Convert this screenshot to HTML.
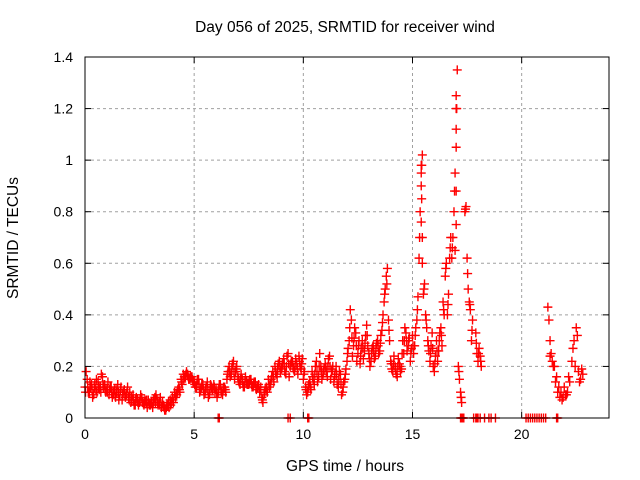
<!DOCTYPE html>
<html><head><meta charset="utf-8"><style>
body{margin:0;background:#fff;}
svg{display:block;font-family:"Liberation Sans",sans-serif;}
</style></head><body>
<svg id="chart" width="640" height="480" viewBox="0 0 640 480">
<rect width="640" height="480" fill="#fff"/>
<text x="345" y="32" font-size="15.5" text-anchor="middle">Day 056 of 2025, SRMTID for receiver wind</text>
<text transform="translate(18,238) rotate(-90)" font-size="15.5" text-anchor="middle">SRMTID / TECUs</text>
<text x="345" y="471" font-size="15.5" text-anchor="middle">GPS time / hours</text>
<g id="grid"></g><g id="ticks"></g><g id="marks"></g>
<rect x="85" y="57" width="524" height="361" fill="none" stroke="#000" stroke-width="1"/>
</svg>
<script>
const xTicks=[0,5,10,15,20];
const yTicks=[0,0.2,0.4,0.6,0.8,1,1.2,1.4];
const yTickLabels=["0","0.2","0.4","0.6","0.8","1","1.2","1.4"];
const hoursA=[0,0.1,0.2,0.3,0.4,0.5,0.6,0.7,0.8,0.9,1,1.1,1.2,1.3,1.4,1.5,1.6,1.7,1.8,1.9,2,2.1,2.2,2.3,2.4,2.5,2.6,2.7,2.8,2.9,3,3.1,3.2,3.3,3.4,3.5,3.6,3.7,3.8,3.9,4,4.1,4.2,4.3,4.4,4.5,4.6,4.7,4.8,4.9,5,5.1,5.2,5.3,5.4,5.5,5.6,5.7,5.8,5.9,6,6.1,6.2,6.3,6.4,6.5,6.6,6.7,6.8,6.9,7,7.1,7.2,7.3,7.4,7.5,7.6,7.7,7.8,7.9,8,8.1,8.2,8.3,8.4,8.5,8.6,8.7,8.8,8.9,9,9.1,9.2,9.3,9.4,9.5,9.6,9.7,9.8,9.9,10,10.1,10.2,10.3,10.4,10.5,10.6,10.7,10.8,10.9,11,11.1,11.2,11.3,11.4,11.5,11.6,11.7,11.8,11.9,12,12.1,12.2,12.3,12.4,12.5,12.6,12.7,12.8,12.9,13,13.1,13.2,13.3,13.4,13.5,13.6,13.7,13.8,13.9,14,14.1,14.2,14.3,14.4,14.5,14.6,14.7,14.8,14.9,15,15.1,15.2,15.3,15.4,15.5,15.6,15.7,15.8,15.9,16,16.1,16.2,16.3,16.4,16.5,16.6,16.7,16.8,16.9,17,17.1,17.2,17.4,17.5,17.6,17.7,17.9,18,18.1];
const tecA=[.12,.15,.10,.13,.09,.11,.14,.12,.16,.13,.11,.09,.12,.10,.08,.13,.09,.07,.11,.09,.08,.06,.09,.05,.07,.06,.08,.05,.06,.07,.05,.04,.08,.07,.06,.04,.05,.03,.05,.07,.08,.10,.09,.12,.15,.17,.16,.17,.15,.16,.14,.12,.15,.11,.13,.10,.14,.09,.12,.13,.11,.10,.13,.09,.12,.15,.20,.17,.22,.18,.16,.13,.15,.12,.14,.13,.15,.12,.14,.12,.10,.08,.09,.12,.15,.13,.18,.20,.16,.22,.19,.23,.17,.25,.20,.22,.18,.21,.24,.19,.15,.12,.10,.14,.18,.13,.22,.16,.20,.17,.21,.16,.24,.18,.14,.20,.12,.17,.10,.15,.22,.30,.38,.28,.33,.25,.21,.30,.26,.36,.25,.22,.28,.24,.30,.26,.34,.45,.55,.38,.22,.18,.20,.16,.21,.19,.25,.33,.28,.22,.32,.28,.38,.62,.95,.48,.40,.30,.22,.33,.18,.30,.26,.35,.45,.55,.40,.62,.62,.80,1.05,.20,.10,.80,.62,.45,.30,.33,.22,.24];
const tecB=[.18,.10,.12,.08,.13,.10,.11,.17,.12,.10,.14,.12,.08,.11,.10,.07,.12,.10,.08,.12,.10,.07,.05,.08,.05,.09,.06,.07,.04,.05,.06,.07,.09,.05,.08,.06,.03,.05,.04,.06,.06,.08,.11,.10,.13,.16,.18,.15,.16,.14,.12,.15,.10,.13,.09,.12,.08,.13,.11,.10,.08,.13,.10,.12,.10,.18,.16,.21,.15,.20,.14,.17,.12,.16,.13,.15,.12,.14,.11,.13,.12,.06,.11,.10,.12,.16,.14,.17,.21,.18,.21,.18,.24,.16,.22,.19,.23,.17,.20,.23,.18,.09,.13,.11,.15,.20,.14,.25,.15,.19,.18,.23,.15,.20,.17,.13,.18,.09,.14,.19,.27,.42,.24,.35,.22,.30,.27,.23,.32,.28,.20,.27,.23,.29,.25,.32,.40,.50,.58,.30,.19,.24,.17,.23,.18,.30,.35,.26,.31,.27,.25,.35,.47,.80,1.02,.52,.35,.26,.28,.20,.24,.22,.33,.28,.40,.60,.48,.70,.70,.95,1.35,.15,.06,.82,.50,.42,.38,.25,.27,.20];
const tecD=[.10,.12,.14,.11,.12,.15,.12,.10,.13,.11,.10,.11,.10,.09,.11,.10,.11,.09,.09,.10,.07,.08,.07,.07,.06,.07,.06,.06,.07,.06,.06,.06,.06,.06,.05,.05,.04,.04,.06,.05,.07,.09,.10,.11,.14,.15,.17,.16,.16,.15,.13,.13,.13,.12,.11,.11,.11,.11,.11,.12,.10,.11,.11,.11,.11,.17,.18,.19,.18,.19,.15,.15,.14,.14,.13,.14,.13,.13,.12,.12,.11,.07,.10,.11,.13,.15,.16,.18,.19,.20,.20,.21,.20,.21,.21,.20,.20,.19,.22,.21,.17,.11,.12,.12,.16,.17,.18,.20,.18,.18,.20,.20,.20,.19,.16,.17,.15,.13,.12,.17,.25,.35,.31,.31,.28,.28,.24,.27,.29,.32,.23,.25,.26,.27,.28,.29,.37,.48,.52,.34,.21,.21,.19,.20,.20,.25,.30,.30,.30,.25,.28,.32,.42,.70,.98,.50,.38,.28,.25,.27,.21,.26,.30,.32,.42,.58,.44,.66,.66,.88,1.20,.18,.08,.81,.56,.44,.34,.29,.25,.22];
const hoursC=[15.4,15.4,15.4,15.45,15.45,15.42,17.0,17.0,17.0,17.0,17.0,16.95,21.2,21.25,21.3,21.35,21.4,21.5,21.6,21.7,21.8,21.9,22.0,22.1,22.2,22.3,22.4,22.5,22.55,22.6,22.7,22.8,21.3,21.45,21.55,21.65,21.75,21.85,21.95,22.05,22.15,22.35,22.45,22.65,22.75];
const tecC=[.98,.90,.76,.70,.60,.85,1.25,1.20,1.12,.88,.75,.65,.43,.38,.30,.25,.22,.20,.16,.12,.10,.08,.09,.10,.14,.22,.30,.35,.32,.18,.15,.17,.24,.20,.14,.10,.08,.07,.12,.09,.16,.27,.20,.14,.19];
const zeroHours=[6.1,6.15,9.3,9.4,10.2,10.25,17.2,17.25,17.3,17.35,17.8,17.9,17.95,18.0,18.1,18.3,18.5,18.6,18.8,20.2,20.3,20.4,20.5,20.6,20.7,20.8,20.9,21.0,21.1,21.6,21.65];
const X0=85,X1=609,Y0=418,Y1=57,XMAX=24,YMAX=1.4;
const xs=h=>X0+h/XMAX*(X1-X0);
const ys=v=>Y0-v/YMAX*(Y0-Y1);
const NS="http://www.w3.org/2000/svg";
const grid=document.getElementById('grid'),ticks=document.getElementById('ticks'),marks=document.getElementById('marks');
function mk(tag,attrs,parent){const e=document.createElementNS(NS,tag);for(const k in attrs)e.setAttribute(k,attrs[k]);parent.appendChild(e);return e;}
xTicks.forEach(t=>{const x=xs(t);
 if(t>0){const g=mk('line',{x1:x,x2:x,y1:Y0,y2:Y1,stroke:'#a0a0a0','stroke-dasharray':'3,3'},grid);
 
 }
 mk('line',{x1:x,x2:x,y1:Y0,y2:Y0-6,stroke:'#000'},ticks);
 mk('line',{x1:x,x2:x,y1:Y1,y2:Y1+6,stroke:'#000'},ticks);
 const l=mk('text',{x:x,y:Y0+21,'font-size':14,'text-anchor':'middle'},ticks);l.textContent=t;
 
 });
yTicks.forEach((t,i)=>{const y=ys(t);
 if(t>0&&t<YMAX){const g=mk('line',{x1:X0,x2:X1,y1:y,y2:y,stroke:'#a0a0a0','stroke-dasharray':'3,3'},grid);
 
 }
 mk('line',{x1:X0,x2:X0+6,y1:y,y2:y,stroke:'#000'},ticks);
 mk('line',{x1:X1,x2:X1-6,y1:y,y2:y,stroke:'#000'},ticks);
 const l=mk('text',{x:X0-12,y:y+5,'font-size':14,'text-anchor':'end'},ticks);l.textContent=yTickLabels[i];
 
 });
function plus(h,v){const x=xs(h),y=ys(v);
 const p=mk('path',{d:`M${x-4.5},${y}h9M${x},${y-4.5}v9`,stroke:'#f00','stroke-width':1.4,fill:'none'},marks);
 
 }
hoursA.forEach((h,i)=>plus(h,tecA[i]));
hoursA.forEach((h,i)=>plus(h+0.05,tecB[i]));
hoursA.forEach((h,i)=>plus(h+0.025,tecD[i]));
hoursC.forEach((h,i)=>plus(h,tecC[i]));
zeroHours.forEach(h=>plus(h,0));
</script>
</body></html>
